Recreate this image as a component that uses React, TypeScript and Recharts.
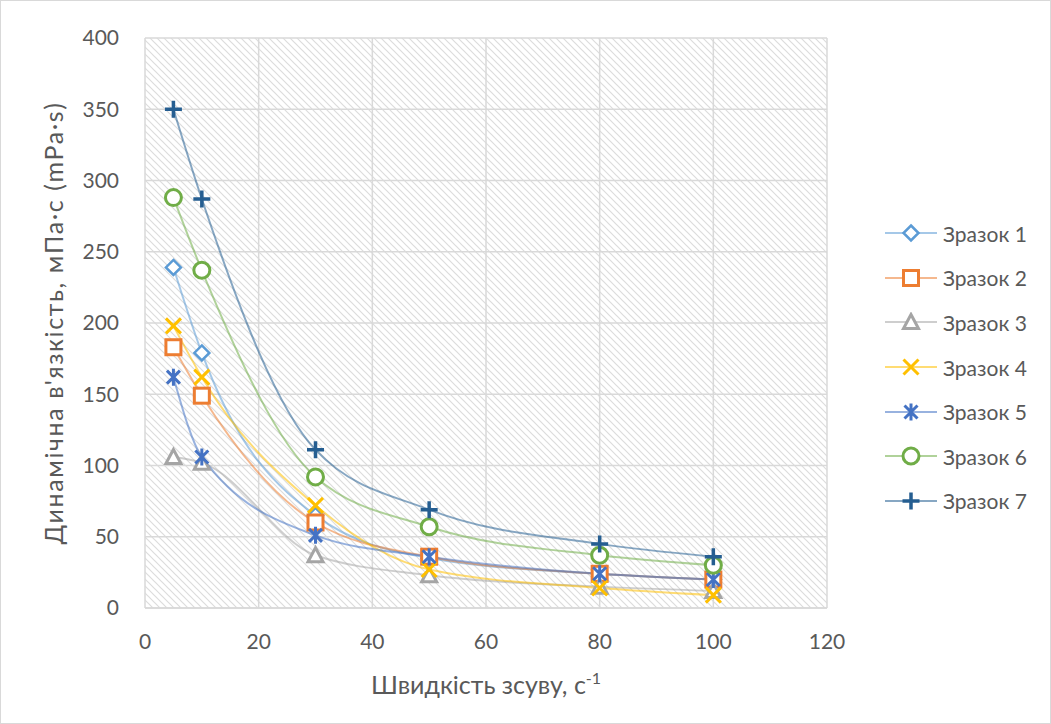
import React from "react";
import {
  LineChart,
  Line,
  XAxis,
  YAxis,
  CartesianGrid,
} from "recharts";

// shear rate, 1/s
const shearRates = [5, 10, 30, 50, 80, 100];

// viscosity, mPa·s
const sample1 = [239, 179, 65, 35, 24, 20];
const sample2 = [183, 149, 60, 36, 24, 20];
const sample3 = [106, 102, 37, 23, 15, 12];
const sample4 = [198, 162, 72, 27, 14, 9];
const sample5 = [162, 106, 51, 36, 24, 20];
const sample6 = [288, 237, 92, 57, 37, 30];
const sample7 = [350, 287, 111, 69, 45, 36];

const seriesNames = ["Зразок 1", "Зразок 2", "Зразок 3", "Зразок 4", "Зразок 5", "Зразок 6", "Зразок 7"];
const xTicks = [0, 20, 40, 60, 80, 100, 120];
const yTicks = [0, 50, 100, 150, 200, 250, 300, 350, 400];

const allSeries = [sample1, sample2, sample3, sample4, sample5, sample6, sample7];

const data = shearRates.map((x, i) => {
  const row: any = { x };
  allSeries.forEach((s, k) => (row["s" + (k + 1)] = s[i]));
  return row;
});

const styles = [
  { color: "#5B9BD5", shape: "diamond" },
  { color: "#ED7D31", shape: "square" },
  { color: "#A5A5A5", shape: "triangle" },
  { color: "#FFC000", shape: "x" },
  { color: "#4472C4", shape: "star" },
  { color: "#70AD47", shape: "circle" },
  { color: "#255E91", shape: "plus" },
];

const FONT = "Lato, 'Open Sans', sans-serif";
const TEXT = "#595959";

function Marker({ cx, cy, shape, color }: any) {
  const sw = 2.5;
  switch (shape) {
    case "diamond":
      return <path d={`M${cx},${cy - 7.5}L${cx + 7.5},${cy}L${cx},${cy + 7.5}L${cx - 7.5},${cy}Z`} fill="#fff" stroke={color} strokeWidth={sw} />;
    case "square":
      return <rect x={cx - 7.5} y={cy - 7.5} width={15} height={15} fill="#fff" stroke={color} strokeWidth={sw + 0.5} />;
    case "triangle":
      return <path d={`M${cx},${cy - 7.5}L${cx + 7.5},${cy + 6.5}L${cx - 7.5},${cy + 6.5}Z`} fill="#fff" stroke={color} strokeWidth={sw + 0.5} />;
    case "x":
      return <path d={`M${cx - 7.5},${cy - 7.5}L${cx + 7.5},${cy + 7.5}M${cx + 7.5},${cy - 7.5}L${cx - 7.5},${cy + 7.5}`} stroke={color} strokeWidth={sw + 0.5} />;
    case "star":
      return <path d={`M${cx - 6.5},${cy - 6.5}L${cx + 6.5},${cy + 6.5}M${cx + 6.5},${cy - 6.5}L${cx - 6.5},${cy + 6.5}M${cx},${cy - 8.5}L${cx},${cy + 8.5}`} stroke={color} strokeWidth={sw + 0.5} />;
    case "circle":
      return <circle cx={cx} cy={cy} r={8} fill="#fff" stroke={color} strokeWidth={sw + 0.5} />;
    default:
      return <path d={`M${cx - 8.5},${cy}L${cx + 8.5},${cy}M${cx},${cy - 8.5}L${cx},${cy + 8.5}`} stroke={color} strokeWidth={sw + 1} />;
  }
}

function makeDot(shape: string, color: string) {
  return (props: any) => (
    <g key={`${shape}-${props.index}`}>
      <Marker cx={props.cx} cy={props.cy} shape={shape} color={color} />
    </g>
  );
}

function XTitle({ viewBox }: any) {
  const cx = viewBox.x + viewBox.width / 2;
  return (
    <text x={cx} y={693} textAnchor="middle" fill={TEXT} fontSize={25} fontFamily={FONT}>
      Швидкість зсуву, с
      <tspan dy={-10} fontSize={16}>-1</tspan>
    </text>
  );
}

function YTitle({ viewBox }: any) {
  const cy = viewBox.y + viewBox.height / 2;
  return (
    <text
      x={52}
      y={cy}
      transform={`rotate(-90, 52, ${cy})`}
      textAnchor="middle"
      dominantBaseline="central"
      fill={TEXT}
      fontSize={25}
      letterSpacing={1.6}
      fontFamily={FONT}
    >
      Динамічна в'язкість, мПа·с (mPa·s)
    </text>
  );
}

function LegendBox() {
  return (
    <div style={{ position: "absolute", left: 884, top: 210, fontFamily: FONT, fontSize: 21, color: TEXT }}>
      {seriesNames.map((name, i) => (
        <div key={name} style={{ display: "flex", alignItems: "center", height: 44.6 }}>
          <svg width={54} height={20}>
            <line x1={0} y1={10} x2={52} y2={10} stroke={styles[i].color} strokeOpacity={0.55} strokeWidth={2} />
            <Marker cx={26} cy={10} shape={styles[i].shape} color={styles[i].color} />
          </svg>
          <span style={{ marginLeft: 4 }}>{name}</span>
        </div>
      ))}
    </div>
  );
}

export default function App() {
  return (
    <div style={{ position: "absolute", left: 0, top: 0, width: 1051, height: 724, background: "#fff", border: "1px solid #d9d9d9", boxSizing: "border-box" }}>
      <LineChart
        width={1049}
        height={722}
        data={data}
        margin={{ top: 37, right: 223, left: 84, bottom: 55 }}
      >
        <defs>
          <pattern id="hatch" width={7} height={7} patternUnits="userSpaceOnUse">
            <path d="M-1,-1L8,8M-1,6L1,8M6,-1L8,1" stroke="#dcdcdc" strokeWidth={1.2} />
          </pattern>
        </defs>
        <CartesianGrid stroke="#d9d9d9" strokeWidth={1.5} fill="url(#hatch)" fillOpacity={1} />
        <XAxis
          type="number"
          dataKey="x"
          domain={[0, 120]}
          ticks={xTicks}
          interval={0}
          height={60}
          axisLine={{ stroke: "#d9d9d9", strokeWidth: 1.5 }}
          tickLine={false}
          tickMargin={20}
          tick={{ fontSize: 21, fill: TEXT, fontFamily: FONT }}
          label={<XTitle />}
        />
        <YAxis
          type="number"
          domain={[0, 400]}
          ticks={yTicks}
          interval={0}
          width={60}
          axisLine={false}
          tickLine={false}
          tickMargin={20}
          tick={{ fontSize: 21, fill: TEXT, fontFamily: FONT }}
          label={<YTitle />}
        />
        {styles.map((s, i) => (
          <Line
            key={i}
            type="monotone"
            dataKey={"s" + (i + 1)}
            name={seriesNames[i]}
            stroke={s.color}
            strokeOpacity={0.55}
            strokeWidth={2}
            dot={makeDot(s.shape, s.color)}
            activeDot={false}
            isAnimationActive={false}
          />
        ))}
      </LineChart>
      <LegendBox />
    </div>
  );
}
